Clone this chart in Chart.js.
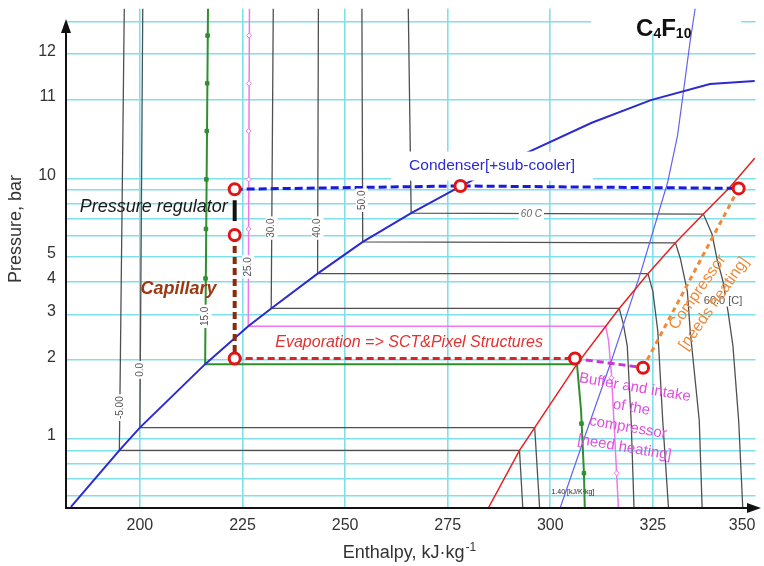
<!DOCTYPE html>
<html>
<head>
<meta charset="utf-8">
<script src="https://cdn.jsdelivr.net/npm/chart.js@4.4.1/dist/chart.umd.min.js"></script>
<style>
  html, body { margin: 0; padding: 0; background: #fff; }
</style>
</head>
<body>
<canvas id="c" width="764" height="566"></canvas>
<script>
// pressure-enthalpy diagram of C4F10 with the cooling cycle on top
// x : enthalpy kJ/kg, y : pressure bar (log)

const xTicks = [182, 200, 225, 250, 275, 300, 325, 350];
const yGrid = [0.6, 0.7, 0.8, 0.9, 1, 2, 3, 4, 5, 6, 7, 8, 9, 10, 20, 30, 40];
const yLabelled = [1, 2, 3, 4, 5, 10, 20, 30];
const yLabels = ['1', '2', '3', '4', '5', '10', '11', '12']; // printed like that on the original

// saturation lines
const liquidLine = [[183.2, 0.545], [195.0, 0.90], [200, 1.10], [215.9, 1.93], [226.4, 2.70], [232.0, 3.16],
  [243.3, 4.30], [254.3, 5.70], [266.1, 7.35], [278.1, 9.32], [293.3, 12.35], [310.1, 16.36],
  [324.5, 20.0], [338.9, 23.05], [349.8, 23.7]];
const vapourLine = [[284.9, 0.54], [292.5, 0.90], [296.2, 1.10], [306.5, 1.93], [313.5, 2.70], [316.8, 3.16],
  [323.8, 4.30], [330.5, 5.65], [337.3, 7.29], [343.75, 9.24], [349.8, 11.95]];
// isentrope 1.40 kJ/K/kg
const isentrope = [[302.4, 0.54], [308.9, 1.07], [314.9, 1.99], [322.1, 4.38], [328.6, 9.66], [331.0, 14.6],
  [332.5, 21.9], [334.1, 33.9], [335.3, 45]];

// isotherms
const isoM5 = [[196.2, 45], [195.0, 0.90], [292.5, 0.90], [293.3, 0.54]];
const iso0 = [[200.7, 45], [200, 1.10], [296.2, 1.10], [297.4, 0.54]];
const iso15 = [[216.6, 45], [215.9, 1.93], [306.5, 1.93], [307.5, 1.28], [308.2, 0.735], [308.4, 0.54]];
const iso25 = [[226.7, 45], [226.4, 2.70], [313.5, 2.70], [314.2, 2.37], [314.9, 1.77], [316.6, 0.54]];
const iso30 = [[232.5, 45], [232.0, 3.16], [316.8, 3.16], [317.8, 2.75], [318.75, 2.27], [319.7, 1.17], [320.4, 0.54]];
const iso40 = [[243.5, 45], [243.3, 4.30], [323.8, 4.30], [325.0, 3.67], [326.2, 2.58], [327.4, 1.17], [328.8, 0.54]];
const iso50 = [[254.1, 45], [254.3, 5.70], [330.5, 5.65], [331.7, 4.91], [333.4, 3.67], [334.1, 2.58], [336.3, 1.17], [337.0, 0.54]];
const iso60 = [[265.4, 45], [266.1, 7.35], [337.3, 7.29], [339.4, 6.11], [340.6, 4.91], [342.1, 4.01], [343.3, 3.08],
  [344.5, 2.27], [345.9, 1.17], [346.9, 0.54]];
const iso15Marks = [[216.5, 35.4], [216.4, 23.2], [216.3, 15.2], [216.2, 9.91], [216.1, 6.39], [216.0, 4.12], [307.6, 1.14], [308.2, 0.735]];
const iso25Marks = [[226.6, 35.4], [226.6, 23.2], [226.5, 15.2], [226.5, 9.91], [226.5, 6.39], [314.9, 1.71], [316.2, 0.735]];

// cycle
const condenser = [[223.1, 9.08], [278.1, 9.35], [345.9, 9.15]];
const regulator = [[223.1, 8.24], [223.1, 6.85]];
const capillary = [[223.1, 6.06], [223.1, 2.03]];
const evaporation = [[223.1, 2.03], [306.0, 2.03]];
const buffer = [[306.0, 2.03], [322.6, 1.87]];
const compressor = [[322.6, 1.87], [345.9, 9.15]];
const statePoints = [[223.1, 9.08], [223.1, 6.06], [223.1, 2.03], [306.0, 2.03], [322.6, 1.87], [345.9, 9.15], [278.1, 9.35]];

// isotherm tags
const isoTags = ['-5.00', '0.0', '15.0', '25.0', '30.0', '40.0', '50.0'];
const isoTagPos = [[195.1, 1.313], [200.1, 1.834], [216.0, 2.948], [226.4, 4.57], [232.1, 6.44], [243.3, 6.44], [254.1, 8.24]];

const family = '"Liberation Sans", Arial, Helvetica, sans-serif';
const cyan = '#80e0ea';

const toXY = arr => arr.map(([x, y]) => ({ x, y }));
function line(data, color, width, dash) {
  return {
    data: toXY(data), showLine: true, borderColor: color, borderWidth: width,
    borderDash: dash || [], pointRadius: 0, fill: false, tension: 0
  };
}
function marks(data, style, color, fillColor) {
  return {
    data: toXY(data), showLine: false, pointStyle: style, pointRadius: 2.5,
    borderColor: color, backgroundColor: fillColor, borderWidth: 1
  };
}

function at(chart, p) {
  return [chart.scales.x.getPixelForValue(p[0]), chart.scales.y.getPixelForValue(p[1])];
}

function boxed(ctx, str, x, y, font, color, rot) {
  ctx.save();
  ctx.translate(x, y);
  ctx.rotate(rot || 0);
  ctx.font = font;
  const w = ctx.measureText(str).width;
  ctx.fillStyle = '#fff';
  ctx.fillRect(-w / 2 - 2, -6, w + 4, 12);
  ctx.fillStyle = color;
  ctx.textAlign = 'center';
  ctx.textBaseline = 'middle';
  ctx.fillText(str, 0, 0);
  ctx.restore();
}

function block(ctx, lines, x, y, font, color, rot, lh) {
  ctx.save();
  ctx.translate(x, y);
  ctx.rotate(rot);
  ctx.font = font;
  ctx.fillStyle = color;
  ctx.textAlign = 'center';
  ctx.textBaseline = 'middle';
  const off = (lines.length - 1) * lh / 2;
  lines.forEach((l, i) => ctx.fillText(l, 0, i * lh - off));
  ctx.restore();
}

const decor = {
  id: 'decor',
  beforeDatasetsDraw(chart) {
    // white patch behind the title
    const ctx = chart.ctx;
    const [tx] = at(chart, [320.9, 35.4]);
    ctx.save();
    ctx.fillStyle = '#fff';
    ctx.fillRect(tx - 45, 0, 150, 34);
    ctx.restore();
  },
  beforeDatasetDraw(chart, args) {
    if (args.index !== 0) return; // just before the state circles
    const ctx = chart.ctx;
    // condenser label covers what is behind it
    const [cx, cy] = at(chart, [285.8, 11.2]);
    ctx.save();
    ctx.font = '15.5px ' + family;
    const w = ctx.measureText('Condenser[+sub-cooler]').width;
    ctx.fillStyle = '#fff';
    ctx.fillRect(cx - w / 2 - 18, cy - 14, w + 36, 29);
    ctx.fillStyle = '#2a2ad6';
    ctx.textAlign = 'center';
    ctx.textBaseline = 'middle';
    ctx.fillText('Condenser[+sub-cooler]', cx, cy);
    ctx.restore();

    isoTags.forEach((t, i) => {
      const [x, y] = at(chart, isoTagPos[i]);
      boxed(ctx, t, x, y, '10px ' + family, '#555', -Math.PI / 2);
    });
    let [x, y] = at(chart, [295.4, 7.29]);
    boxed(ctx, '60 C', x, y, 'italic 10px ' + family, '#666');
    [x, y] = at(chart, [342.1, 3.39]);
    boxed(ctx, '60.0 [C]', x, y, '11px ' + family, '#555');
  },
  afterDraw(chart) {
    const ctx = chart.ctx;
    const a = chart.chartArea;
    ctx.save();

    // free texts
    let [x, y] = at(chart, [203.4, 7.75]);
    block(ctx, ['Pressure regulator'], x, y, 'italic 18px ' + family, '#1a1a1a', 0, 0);
    [x, y] = at(chart, [209.4, 3.74]);
    block(ctx, ['Capillary'], x, y, 'italic bold 18px ' + family, '#9b3a12', 0, 0);
    [x, y] = at(chart, [265.6, 2.345]);
    block(ctx, ['Evaporation => SCT&Pixel Structures'], x, y, 'italic 16px ' + family, '#e53030', 0, 0);
    [x, y] = at(chart, [319.35, 1.203]);
    block(ctx, ['Buffer and intake', 'of the', 'compressor', '[need heating]'], x, y, '15px ' + family, '#dd50dd', 0.17, 20.3);
    [x, y] = at(chart, [337.9, 3.47]);
    block(ctx, ['Compressor', '[needs heating]'], x, y, '16px ' + family, '#ef8a3a', -0.96, 20);
    [x, y] = at(chart, [305.5, 0.622]);
    block(ctx, ['1.40 [kJ/K\u00b7kg]'], x, y, '7px ' + family, '#222', 0, 0);

    // title C4F10
    [x, y] = at(chart, [320.9, 35.4]);
    ctx.fillStyle = '#111';
    ctx.textAlign = 'left';
    ctx.textBaseline = 'alphabetic';
    const big = 'bold 24px ' + family, small = 'bold 14px ' + family;
    ctx.font = big; ctx.fillText('C', x, y); x += ctx.measureText('C').width;
    ctx.font = small; ctx.fillText('4', x, y + 2); x += ctx.measureText('4').width;
    ctx.font = big; ctx.fillText('F', x, y); x += ctx.measureText('F').width;
    ctx.font = small; ctx.fillText('10', x, y + 2);

    // axes with arrows
    ctx.strokeStyle = '#111';
    ctx.fillStyle = '#111';
    ctx.lineWidth = 2;
    ctx.beginPath();
    ctx.moveTo(a.left, a.bottom);
    ctx.lineTo(a.left, 30);
    ctx.moveTo(a.left - 1, a.bottom);
    ctx.lineTo(750, a.bottom);
    ctx.stroke();
    ctx.beginPath();
    ctx.moveTo(a.left, 19); ctx.lineTo(a.left - 5, 33); ctx.lineTo(a.left + 5, 33); ctx.closePath();
    ctx.fill();
    ctx.beginPath();
    ctx.moveTo(761, a.bottom); ctx.lineTo(747, a.bottom - 5); ctx.lineTo(747, a.bottom + 5); ctx.closePath();
    ctx.fill();

    // axis titles
    ctx.fillStyle = '#333';
    ctx.font = '18px ' + family;
    ctx.save();
    ctx.translate(16, 229);
    ctx.rotate(-Math.PI / 2);
    ctx.textAlign = 'center';
    ctx.textBaseline = 'middle';
    ctx.fillText('Pressure, bar', 0, 0);
    ctx.restore();

    const main = 'Enthalpy, kJ\u00b7kg', sup = '-1';
    ctx.font = '18px ' + family;
    const w1 = ctx.measureText(main).width;
    ctx.font = '12px ' + family;
    const w2 = ctx.measureText(sup).width;
    let sx = 409 - (w1 + w2) / 2;
    ctx.textAlign = 'left';
    ctx.textBaseline = 'alphabetic';
    ctx.font = '18px ' + family;
    ctx.fillText(main, sx, 558);
    ctx.font = '12px ' + family;
    ctx.fillText(sup, sx + w1 + 1, 551);
    ctx.restore();
  }
};

const gray = '#505050';
const datasets = [
  { data: toXY(statePoints), showLine: false, pointRadius: 5.5, pointBorderWidth: 3,
    pointBorderColor: '#e01515', pointBackgroundColor: '#fff' },
  line(regulator, '#111', 4),
  line(condenser, '#1a1ad8', 3, [8, 4]),
  line(capillary, '#8b2a0a', 4, [7, 4]),
  line(evaporation, '#e02222', 3, [7, 4]),
  line(buffer, '#cc33dd', 3, [7, 4]),
  line(compressor, '#f08a3a', 3, [5, 4]),
  line(liquidLine, '#2b2bd0', 2),
  line(vapourLine, '#e52222', 1.5),
  line(isentrope, '#6262f0', 1.2),
  marks(iso15Marks, 'rect', '#2f8f2f', '#2f8f2f'),
  marks(iso25Marks, 'rectRot', '#ee77ee', '#fff'),
  line(iso15, '#2f8f2f', 2),
  line(iso25, '#ee77ee', 1.5),
  line(isoM5, gray, 1.3),
  line(iso0, gray, 1.3),
  line(iso30, gray, 1.3),
  line(iso40, gray, 1.3),
  line(iso50, gray, 1.3),
  line(iso60, gray, 1.3)
];

new Chart(document.getElementById('c'), {
  type: 'scatter',
  data: { datasets },
  options: {
    responsive: false,
    animation: false,
    devicePixelRatio: 1,
    layout: { padding: { top: 5, right: 0, bottom: 0, left: 0 } },
    plugins: { legend: { display: false }, tooltip: { enabled: false } },
    scales: {
      x: {
        type: 'linear', min: 182, max: 350,
        afterBuildTicks: s => { s.ticks = xTicks.map(v => ({ value: v })); },
        afterFit: s => { s.height = 58; s.paddingLeft = 0; s.paddingRight = 0; },
        border: { display: false },
        grid: {
          drawTicks: false, lineWidth: 1.6,
          color: c => (c.tick && (c.tick.value === 182 || c.tick.value === 350)) ? 'rgba(0,0,0,0)' : cyan
        },
        ticks: {
          align: 'inner', autoSkip: false, maxRotation: 0, padding: 8, color: '#333',
          font: { size: 16, family },
          callback: v => v === 182 ? '' : String(v)
        }
      },
      y: {
        type: 'logarithmic', min: 0.54, max: 45,
        afterBuildTicks: s => { s.ticks = yGrid.map(v => ({ value: v })); },
        afterFit: s => { s.width = 66; s.paddingTop = 0; s.paddingBottom = 0; },
        border: { display: false },
        grid: { drawTicks: false, lineWidth: 1.6, color: cyan },
        ticks: {
          autoSkip: false, padding: 10, labelOffset: -3, color: '#333',
          font: { size: 16, family },
          callback: v => { const i = yLabelled.indexOf(v); return i < 0 ? '' : yLabels[i]; }
        }
      }
    }
  },
  plugins: [decor]
});
</script>
</body>
</html>
